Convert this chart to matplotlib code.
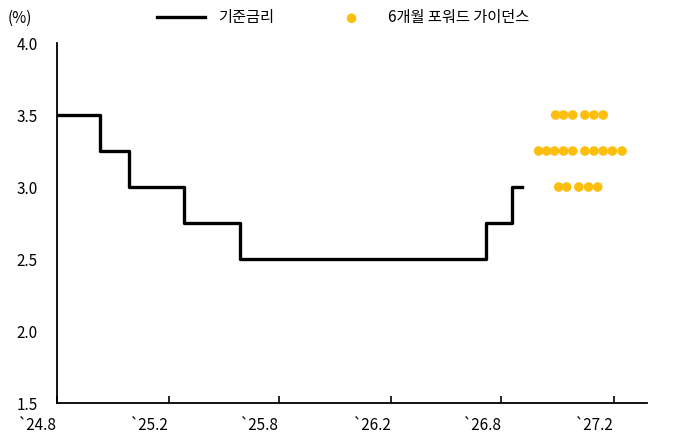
import numpy as np
import pandas as pd
import matplotlib
matplotlib.use("Agg")
import matplotlib.pyplot as plt
import matplotlib.dates as mdates

plt.rcParams['font.family'] = ['Noto Sans CJK KR', 'DejaVu Sans']

# policy rate steps (date of change, level)
step_dates = ['2024-08-01', '2024-10-11', '2024-11-28', '2025-02-25',
              '2025-05-29', '2026-07-07', '2026-08-19', '2026-09-03']
step_rates = [3.5, 3.25, 3.0, 2.75, 2.5, 2.75, 3.0, 3.0]

# 6-month forward guidance dots
dot_dates = ['2026-10-29', '2026-11-11', '2026-11-26', '2026-12-16', '2026-12-31', '2027-01-15',
             '2026-10-01', '2026-10-14', '2026-10-27', '2026-11-11', '2026-11-26',
             '2026-12-16', '2026-12-31', '2027-01-15', '2027-01-30', '2027-02-15',
             '2026-11-03', '2026-11-16', '2026-12-06', '2026-12-22', '2027-01-06']
dot_rates = [3.5] * 6 + [3.25] * 10 + [3.0] * 5

tick_dates = ['2024-08-01', '2025-02-01', '2025-08-01', '2026-02-01', '2026-08-01', '2027-02-01']
tick_labels = ["`24.8", "`25.2", "`25.8", "`26.2", "`26.8", "`27.2"]

fig = plt.figure(figsize=(6.86, 4.45), dpi=100)
ax = fig.add_axes([57/686, 1 - 403/445, 590/686, 360/445])

ax.step(pd.to_datetime(step_dates), step_rates, where='post', color='black', lw=2.4, label='기준금리')
ax.scatter(pd.to_datetime(dot_dates), dot_rates, s=48, color='#FDBF0F', edgecolors='none',
           label='6개월 포워드 가이던스', zorder=3)

ax.set_xlim(pd.Timestamp('2024-08-01'), pd.Timestamp('2027-03-28'))
ax.set_ylim(1.5, 4.0)
ax.set_yticks(np.arange(1.5, 4.01, 0.5))
ax.set_yticklabels([f'{v:.1f}' for v in np.arange(1.5, 4.01, 0.5)], fontsize=11)
ax.set_xticks(pd.to_datetime(tick_dates))
ax.set_xticklabels(tick_labels, fontsize=11, ha='right')
ax.tick_params(axis='x', direction='in', length=5, width=1.2, pad=10)
ax.tick_params(axis='y', length=0, pad=14)
for s in ['top', 'right']:
    ax.spines[s].set_visible(False)
for s in ['left', 'bottom']:
    ax.spines[s].set_linewidth(1.3)

fig.text(8/686, 1 - 18/445, '(%)', fontsize=11, va='center')
fig.legend(loc='upper center', bbox_to_anchor=(0.5, 1.01), ncol=2, frameon=False,
           fontsize=11, handlelength=3.2, columnspacing=3.5)

fig.savefig('out.png', dpi=100)
